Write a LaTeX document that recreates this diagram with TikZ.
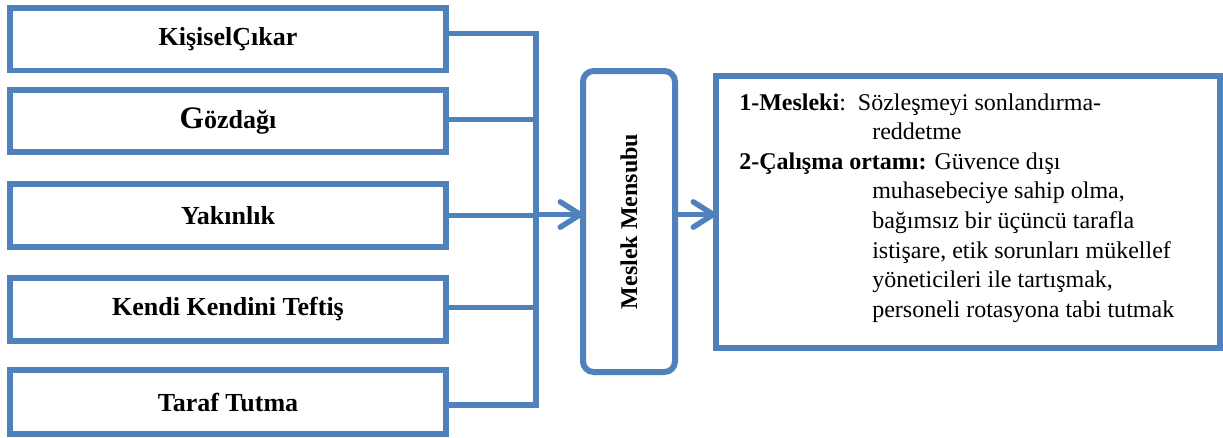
\documentclass[tikz,border=0pt]{standalone}
\usepackage{fontspec}
\usepackage{graphicx}
\setmainfont{Liberation Serif}
\usetikzlibrary{arrows.meta}
\definecolor{frame}{RGB}{79,129,189}
\tikzset{
  causebox/.style={draw=frame, fill=white, line width=4.2pt, rectangle, outer sep=0pt,
    minimum width=436*0.75pt, inner sep=0pt,
    font=\fontsize{19.5}{22}\selectfont\bfseries},
  rolebox/.style={draw=frame, fill=white, line width=4.5pt, rounded corners=8pt, outer sep=0pt,
    minimum width=92*0.75pt, minimum height=301*0.75pt, inner sep=0pt,
    font=\fontsize{18}{22}\selectfont\bfseries},
  resultbox/.style={draw=frame, fill=white, line width=4.5pt, rectangle, outer sep=0pt,
    minimum width=504*0.75pt, minimum height=272*0.75pt, inner sep=0pt},
  wire/.style={draw=frame, line width=4.1pt, line join=miter},
  flow/.style={draw=frame, line width=4.1pt,
    -{Straight Barb[length=15pt,width=19pt,line cap=round,line join=round]}},
  txt/.style={anchor=base west, inner sep=0pt, font=\fontsize{18}{22}\selectfont}
}
\begin{document}
\begin{tikzpicture}[x=0.75pt,y=-0.75pt]
\useasboundingbox (0,0) rectangle (1223,437);

% causes on the left
\node[causebox, minimum height=62.6*0.75pt] (b1) at (228,39) {KişiselÇıkar};
\node[causebox, minimum height=62*0.75pt] (b2) at (228,121) {{\fontsize{23.5}{22}\selectfont G}özdağı};
\node[causebox, minimum height=63*0.75pt] (b3) at (228,215.5) {Yakınlık};
\node[causebox, minimum height=63*0.75pt] (b4) at (228,309.5) {Kendi Kendini Teftiş};
\node[causebox, minimum height=64*0.75pt] (b5) at (228,402) {Taraf Tutma};

% centre and result boxes
\node[rolebox] (mid) at (629,221.5) {\rotatebox{90}{Meslek Mensubu}};
\node[resultbox] (res) at (968,212) {};

% rows of the connectors
\coordinate (c1) at (0,33.5);
\coordinate (c2) at (0,119.5);
\coordinate (c3) at (0,215.5);
\coordinate (c4) at (0,307.5);
\coordinate (c5) at (0,405);
\coordinate (row) at (0,214.5);
\coordinate (trunk) at (536,214.5);

% bracket collecting the causes
\draw[wire] (b1.east |- c1) -| (trunk |- c5) -- (b5.east |- c5);
\draw[wire] (b2.east |- c2) -- (trunk |- c2);
\draw[wire] (b3.east |- c3) -- (trunk |- c3);
\draw[wire] (b4.east |- c4) -- (trunk |- c4);

% arrows
\draw[flow] (trunk) -- (mid.west |- row);
\draw[flow] (mid.east |- row) -- (res.west |- row);

% measures listed in the result box
\node[txt] (l1) at (739,110) {\textbf{1-Mesleki}:\ \ Sözleşmeyi sonlandırma-};
\node[txt] (l2) at (872,139.6) {reddetme};
\node[txt] (l3) at (739,169.2) {\textbf{2-Çalışma ortamı:} Güvence dışı};
\node[txt] (l4) at (872,198.8) {muhasebeciye sahip olma,};
\node[txt] (l5) at (872,228.4) {bağımsız bir üçüncü tarafla};
\node[txt] (l6) at (872,258) {istişare, etik sorunları mükellef};
\node[txt] (l7) at (872,287.6) {yöneticileri ile tartışmak,};
\node[txt] (l8) at (872,317.2) {personeli rotasyona tabi tutmak};
\end{tikzpicture}
\end{document}
